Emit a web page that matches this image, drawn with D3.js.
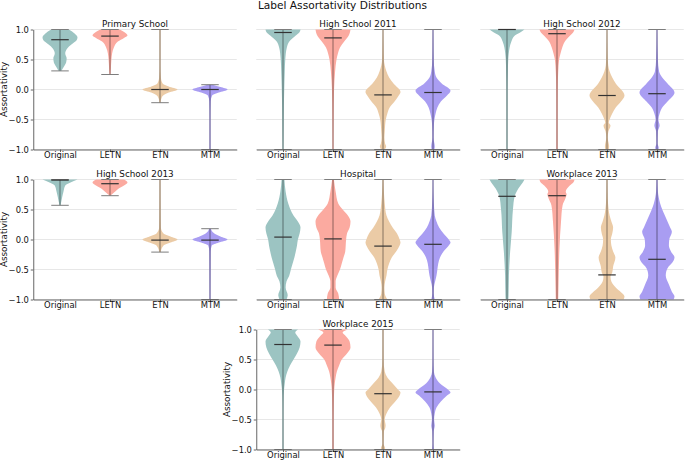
<!DOCTYPE html>
<html>
<head>
<meta charset="utf-8">
<script src="https://cdn.jsdelivr.net/npm/d3@7"></script>
<style>
  body { margin: 0; background: #fff; }
</style>
</head>
<body>
<script>
const panelTitles = ["Primary School", "High School 2011", "High School 2012",
    "High School 2013", "Hospital", "Workplace 2013", "Workplace 2015"]
const methods = ["Original", "LETN", "ETN", "MTM"]
const yTicks = [-1, -0.5, 0, 0.5, 1]

// medians per panel, in method order
const medians = [
    [0.83, 0.89, 0.0, 0.0],
    [0.95, 0.86, -0.09, -0.05],
    [1.0, 0.93, -0.10, -0.07],
    [0.99, 0.93, -0.01, -0.01],
    [0.04, 0.01, -0.11, -0.08],
    [0.72, 0.73, -0.59, -0.33],
    [0.75, 0.74, -0.07, -0.04]
]

// density profiles: [value, relative width]
const primaryProfile = [
    [[0.31,0.08],[0.38,0.22],[0.45,0.35],[0.52,0.38],[0.6,0.3],[0.68,0.4],[0.75,0.65],[0.82,0.95],[0.87,1.0],[0.93,0.85],[1.0,0.5]],
    [[0.25,0.02],[0.35,0.05],[0.5,0.08],[0.6,0.12],[0.7,0.22],[0.8,0.45],[0.86,0.8],[0.9,1.0],[0.95,0.85],[1.0,0.55]],
    [[-0.22,0.03],[-0.15,0.08],[-0.1,0.18],[-0.05,0.5],[0,1.0],[0.05,0.5],[0.1,0.15],[0.2,0.05],[0.4,0.02],[1.0,0.02]],
    [[-1,0.02],[-0.5,0.02],[-0.2,0.04],[-0.1,0.12],[-0.05,0.5],[0,1.0],[0.04,0.6],[0.08,0.15]]
]
const hs2011Profile = [
    [[-1,0.02],[-0.8,0.03],[-0.5,0.04],[-0.3,0.05],[0,0.07],[0.3,0.1],[0.5,0.13],[0.7,0.22],[0.8,0.36],[0.9,0.73],[0.96,0.95],[1.0,1.0]],
    [[-1,0.02],[-0.5,0.03],[0,0.06],[0.3,0.12],[0.5,0.2],[0.6,0.28],[0.7,0.4],[0.8,0.64],[0.9,0.9],[1.0,1.0]],
    [[-1,0.1],[-0.95,0.18],[-0.9,0.12],[-0.8,0.08],[-0.7,0.1],[-0.6,0.12],[-0.5,0.16],[-0.4,0.25],[-0.3,0.38],[-0.2,0.66],[-0.1,0.9],[-0.04,1.0],[0.1,0.6],[0.2,0.35],[0.3,0.2],[0.4,0.1],[0.5,0.05],[0.7,0.03],[1.0,0.01]],
    [[-1,0.08],[-0.95,0.1],[-0.8,0.03],[-0.6,0.05],[-0.5,0.08],[-0.4,0.15],[-0.3,0.25],[-0.2,0.45],[-0.1,0.8],[-0.02,1.0],[0.1,0.5],[0.2,0.2],[0.3,0.1],[0.5,0.04],[0.8,0.02],[1.0,0.01]]
]
const hs2012Profile = [
    [[-1,0.02],[0,0.03],[0.3,0.05],[0.5,0.07],[0.6,0.1],[0.7,0.15],[0.8,0.25],[0.9,0.45],[0.95,0.75],[1.0,1.0]],
    [[-1,0.03],[-0.5,0.03],[0,0.04],[0.3,0.07],[0.5,0.12],[0.6,0.2],[0.7,0.3],[0.8,0.45],[0.9,0.75],[0.95,0.92],[1.0,1.0]],
    [[-1,0.1],[-0.95,0.12],[-0.8,0.04],[-0.7,0.08],[-0.6,0.2],[-0.55,0.1],[-0.5,0.15],[-0.4,0.3],[-0.3,0.5],[-0.2,0.8],[-0.1,1.0],[0.1,0.5],[0.2,0.3],[0.3,0.15],[0.4,0.07],[0.6,0.03],[1.0,0.01]],
    [[-1,0.08],[-0.97,0.1],[-0.9,0.03],[-0.7,0.05],[-0.6,0.15],[-0.5,0.08],[-0.4,0.15],[-0.3,0.3],[-0.2,0.6],[-0.05,1.0],[0.1,0.6],[0.2,0.3],[0.3,0.12],[0.5,0.05],[1.0,0.01]]
]
const hs2013Profile = [
    [[0.57,0.02],[0.6,0.05],[0.7,0.12],[0.8,0.2],[0.9,0.3],[0.95,0.6],[1.0,1.0]],
    [[0.73,0.03],[0.75,0.1],[0.8,0.3],[0.85,0.5],[0.9,0.8],[0.95,1.0],[1.0,0.8]],
    [[-0.21,0.04],[-0.1,0.2],[-0.05,0.6],[0,1.0],[0.05,0.6],[0.1,0.2],[0.2,0.05],[0.5,0.03],[1.0,0.02]],
    [[-1,0.02],[-0.5,0.03],[-0.2,0.04],[-0.1,0.1],[-0.05,0.5],[0,1.0],[0.05,0.6],[0.1,0.25],[0.18,0.05]]
]
const hospitalProfile = [
    [[-1,0.2],[-0.93,0.27],[-0.8,0.15],[-0.7,0.2],[-0.6,0.36],[-0.5,0.45],[-0.4,0.55],[-0.3,0.65],[-0.2,0.73],[-0.1,0.8],[0,0.85],[0.1,0.95],[0.2,1.0],[0.3,0.85],[0.4,0.6],[0.6,0.3],[0.8,0.15],[1.0,0.08]],
    [[-1,0.35],[-0.9,0.3],[-0.8,0.15],[-0.7,0.15],[-0.6,0.25],[-0.5,0.4],[-0.4,0.5],[-0.3,0.6],[-0.2,0.7],[0,0.75],[0.1,0.8],[0.2,0.95],[0.3,1.0],[0.4,0.85],[0.5,0.55],[0.6,0.3],[0.8,0.15],[1.0,0.05]],
    [[-1,0.25],[-0.9,0.1],[-0.8,0.08],[-0.7,0.12],[-0.6,0.2],[-0.5,0.25],[-0.4,0.35],[-0.3,0.5],[-0.2,0.75],[-0.1,0.95],[-0.05,1.0],[0,0.95],[0.1,0.8],[0.2,0.55],[0.3,0.35],[0.4,0.2],[0.6,0.1],[0.8,0.05],[1.0,0.02]],
    [[-1,0.1],[-0.9,0.04],[-0.8,0.05],[-0.7,0.12],[-0.6,0.2],[-0.5,0.25],[-0.4,0.3],[-0.3,0.4],[-0.2,0.6],[-0.1,0.9],[-0.05,1.0],[0,0.9],[0.1,0.6],[0.2,0.35],[0.3,0.2],[0.4,0.1],[0.6,0.05],[0.8,0.02],[1.0,0.01]]
]
const wp2013Profile = [
    [[-1,0.08],[-0.93,0.09],[-0.6,0.11],[-0.2,0.18],[0.13,0.27],[0.5,0.34],[0.72,0.44],[0.85,0.65],[0.95,0.9],[1.0,1.0]],
    [[-1,0.07],[-0.7,0.09],[-0.15,0.14],[0.3,0.23],[0.57,0.32],[0.7,0.5],[0.75,0.55],[0.8,0.5],[0.9,0.73],[0.96,0.95],[1.0,1.0]],
    [[-1,0.95],[-0.95,1.0],[-0.88,0.8],[-0.8,0.5],[-0.7,0.25],[-0.62,0.2],[-0.55,0.3],[-0.45,0.35],[-0.3,0.48],[-0.2,0.35],[-0.1,0.25],[0,0.22],[0.1,0.3],[0.2,0.35],[0.3,0.25],[0.4,0.15],[0.6,0.06],[0.8,0.03],[1.0,0.02]],
    [[-1,0.95],[-0.95,1.0],[-0.87,0.85],[-0.75,0.68],[-0.6,0.5],[-0.48,0.6],[-0.35,0.95],[-0.3,1.0],[-0.2,0.8],[-0.1,0.68],[0.0,0.7],[0.13,0.85],[0.2,0.75],[0.3,0.6],[0.4,0.45],[0.5,0.3],[0.6,0.18],[0.7,0.1],[0.8,0.05],[1.0,0.02]]
]
const wp2015Profile = [
    [[-1,0.02],[-0.5,0.02],[-0.2,0.03],[0,0.06],[0.1,0.1],[0.2,0.15],[0.3,0.25],[0.4,0.4],[0.5,0.6],[0.6,0.8],[0.7,0.95],[0.8,1.0],[0.9,0.8],[0.95,0.7],[1.0,0.86]],
    [[-1,0.03],[-0.6,0.03],[-0.3,0.04],[0,0.07],[0.1,0.1],[0.2,0.15],[0.3,0.22],[0.4,0.35],[0.5,0.5],[0.6,0.8],[0.7,1.0],[0.8,0.95],[0.9,0.7],[0.95,0.55],[1.0,0.85]],
    [[-1,0.1],[-0.98,0.12],[-0.9,0.03],[-0.7,0.05],[-0.65,0.12],[-0.6,0.15],[-0.5,0.1],[-0.4,0.2],[-0.3,0.4],[-0.2,0.7],[-0.1,0.95],[-0.05,1.0],[0,0.85],[0.1,0.55],[0.2,0.25],[0.3,0.1],[0.5,0.03],[1.0,0.02]],
    [[-1,0.05],[-0.9,0.02],[-0.7,0.04],[-0.6,0.1],[-0.5,0.06],[-0.4,0.1],[-0.3,0.2],[-0.2,0.45],[-0.1,0.8],[-0.05,1.0],[0,0.85],[0.1,0.4],[0.2,0.15],[0.3,0.05],[0.5,0.02],[1.0,0.01]]
]
const densityProfiles = [primaryProfile, hs2011Profile, hs2012Profile, hs2013Profile,
    hospitalProfile, wp2013Profile, wp2015Profile]

// layout
const width = 685
const height = 460
const colX = [33.25, 256.25, 480.25]
const rowY = [29.5, 179.5, 329.5]
const gridPos = [[0,0],[1,0],[2,0],[0,1],[1,1],[2,1],[1,2]]
const pw = 203.5
const ph = 120
const halfW = 17.5
const capW = 8.75
const colors = ["#9cc4c2", "#fbaaa0", "#ebcba6", "#a99df2"]

const svg = d3.select("body")
    .append("svg")
    .attr("width", width)
    .attr("height", height)
    .style("font-family", "'DejaVu Sans', sans-serif")

svg.append("text")
    .attr("x", width / 2)
    .attr("y", 9)
    .attr("text-anchor", "middle")
    .style("font-size", "10.6px")
    .attr("fill", "#111")
    .text("Label Assortativity Distributions")

panelTitles.forEach((title, i) => {
    const [c, r] = gridPos[i]
    const left = colX[c]
    const top = rowY[r]

    const x = d3.scalePoint().domain(methods).range([left, left + pw]).padding(0.535)
    const y = d3.scaleLinear().domain([-1, 1]).range([top + ph, top])
    const w = d3.scaleLinear().domain([0, 1]).range([0, halfW])

    const g = svg.append("g")

    // horizontal grid
    g.selectAll("line.grid")
        .data(yTicks)
        .join("line")
        .attr("class", "grid")
        .attr("x1", left)
        .attr("x2", left + pw)
        .attr("y1", d => y(d))
        .attr("y2", d => y(d))
        .attr("stroke", "#e4e4e4")
        .attr("stroke-width", 0.9)

    // violins
    methods.forEach((m, j) => {
        const prof = d3.sort(densityProfiles[i][j], d => d[0])
        const cx = x(m)
        const area = d3.area()
            .y(d => y(d[0]))
            .x0(d => cx - w(d[1]))
            .x1(d => cx + w(d[1]))
            .curve(d3.curveMonotoneY)

        g.append("path")
            .attr("d", area(prof))
            .attr("fill", colors[j])

        const [lo, hi] = d3.extent(prof, d => d[0])
        const lineCol = d3.color(colors[j]).darker(1.6)

        g.append("line")
            .attr("x1", cx).attr("x2", cx)
            .attr("y1", y(lo)).attr("y2", y(hi))
            .attr("stroke", lineCol)
            .attr("stroke-width", 1)

        g.selectAll(null)
            .data([lo, hi])
            .join("line")
            .attr("x1", cx - capW).attr("x2", cx + capW)
            .attr("y1", d => y(d)).attr("y2", d => y(d))
            .attr("stroke", "#7d7d7d")
            .attr("stroke-width", 1)

        g.append("line")
            .attr("x1", cx - capW).attr("x2", cx + capW)
            .attr("y1", y(medians[i][j])).attr("y2", y(medians[i][j]))
            .attr("stroke", "#333")
            .attr("stroke-width", 1.2)
    })

    // left spine + tick labels only on the left-most panels
    if (c === 0 || i === 6) {
        const ya = g.append("g")
            .attr("transform", `translate(${left},0)`)
            .call(d3.axisLeft(y).tickValues(yTicks).tickSize(2.5).tickSizeOuter(0)
                .tickPadding(1.8).tickFormat(d3.format(".1f")))
            .attr("font-family", null)
            .attr("font-size", null)
        ya.select(".domain").attr("stroke", "#555").attr("stroke-width", 0.9)
        ya.selectAll(".tick line").attr("stroke", "#555").attr("stroke-width", 0.9)
        ya.selectAll("text").style("font-size", "8.4px").attr("fill", "#111")

        g.append("text")
            .attr("transform", `translate(${left - 26},${top + ph / 2}) rotate(-90)`)
            .attr("text-anchor", "middle")
            .style("font-size", "8.8px")
            .attr("fill", "#111")
            .text("Assortativity")
    }

    // bottom spine + category labels
    const xa = g.append("g")
        .attr("transform", `translate(0,${top + ph})`)
        .call(d3.axisBottom(x).tickSize(2.5).tickSizeOuter(0).tickPadding(0.4))
        .attr("font-family", null)
        .attr("font-size", null)
    xa.select(".domain").attr("stroke", "#555").attr("stroke-width", 0.9)
    xa.selectAll(".tick line").attr("stroke", "#555").attr("stroke-width", 0.9)
    xa.selectAll("text").style("font-size", "8.4px").attr("fill", "#111")

    g.append("text")
        .attr("x", left + pw / 2)
        .attr("y", top - 2.5)
        .attr("text-anchor", "middle")
        .style("font-size", "8.8px")
        .attr("fill", "#111")
        .text(title)
})
</script>
</body>
</html>
